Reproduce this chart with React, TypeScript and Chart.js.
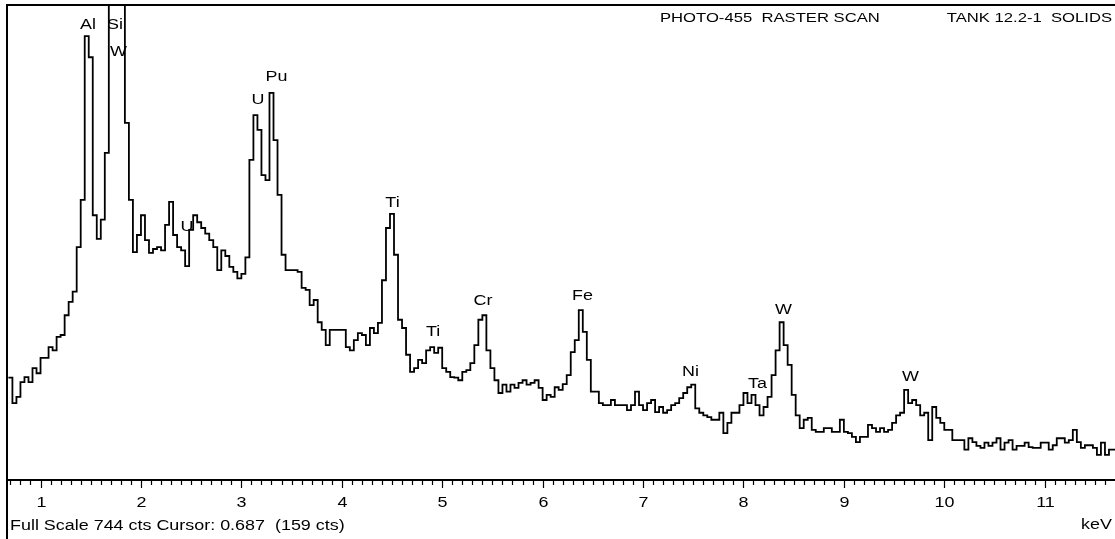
import React, { useEffect, useRef } from "react";
import { Chart, registerables } from "chart.js";

Chart.register(...registerables);

// ---- data ----
const energyStartKeV = 0.68;
const channelWidthKeV = 0.04;
const counts = [
  159, 119, 129, 152, 160, 152, 174, 166, 190, 190,
  207, 202, 223, 226, 257, 278, 294, 364, 438, 695,
  662, 414, 377, 407, 512, 790, 820, 815, 785, 559,
  438, 356, 383, 414, 375, 355, 361, 364, 359, 399,
  435, 383, 364, 359, 334, 391, 414, 403, 394, 385,
  375, 364, 328, 359, 350, 333, 325, 315, 322, 348,
  501, 571, 548, 477, 469, 606, 532, 446, 352, 328,
  328, 328, 325, 300, 297, 273, 281, 246, 234, 210,
  234, 234, 234, 234, 207, 202, 218, 229, 226, 210,
  237, 229, 245, 312, 394, 416, 352, 250, 237, 195,
  168, 174, 187, 182, 202, 207, 198, 206, 174, 168,
  160, 159, 155, 168, 171, 182, 210, 250, 257, 202,
  174, 155, 135, 148, 137, 148, 143, 151, 155, 148,
  151, 155, 143, 124, 132, 129, 144, 140, 149, 163,
  199, 218, 265, 231, 187, 137, 137, 119, 116, 116,
  124, 116, 116, 116, 108, 116, 137, 116, 108, 119,
  124, 105, 113, 104, 108, 116, 119, 127, 135, 144,
  148, 111, 104, 100, 97, 93, 93, 104, 72, 88,
  104, 104, 116, 135, 119, 132, 116, 100, 113, 129,
  163, 202, 246, 210, 179, 132, 100, 80, 93, 96,
  77, 74, 74, 80, 80, 74, 74, 93, 74, 72,
  66, 58, 66, 66, 85, 80, 74, 80, 74, 77,
  88, 100, 104, 140, 119, 124, 116, 100, 104, 61,
  113, 96, 88, 77, 77, 61, 61, 61, 46, 64,
  58, 52, 49, 57, 52, 57, 64, 46, 57, 61,
  46, 52, 52, 57, 50, 49, 49, 57, 57, 46,
  53, 64, 64, 57, 61, 77, 58, 49, 53, 53,
  49, 38, 57, 38, 46, 46, 50,
];

const axisMinKeV = 0.676;
const axisMaxKeV = 11.7;
const fullScaleCounts = 744;
const minorTickStepKeV = 0.1;

const peakNames = ["Al", "Si", "W", "U", "Pu", "U", "Ti", "Ti", "Cr", "Fe", "Ni", "Ta", "W", "W"];
const peakLabelKeV = [1.473, 1.742, 1.777, 3.166, 3.35, 2.459, 4.505, 4.909, 5.406, 6.397, 7.473, 8.14, 8.399, 9.664];
const peakLabelCounts = [714, 714, 672, 596, 633, 397, 435, 232, 281, 289, 170, 150, 267, 162];

const headerLeft = "PHOTO-455  RASTER SCAN";
const headerRight = "TANK 12.2-1  SOLIDS";
const footerText = "Full Scale 744 cts Cursor: 0.687  (159 cts)";
const unitText = "keV";

// ---- styling ----
const W = 1115;
const H = 539;
const FONT = '"Liberation Sans", Arial, Helvetica, sans-serif';
const TEXT_STRETCH = 1.28;

function stretchedText(
  ctx: CanvasRenderingContext2D,
  text: string,
  x: number,
  y: number,
  align: CanvasTextAlign,
  size: number
) {
  ctx.save();
  ctx.translate(x, y);
  ctx.scale(TEXT_STRETCH, 1);
  ctx.font = `${size}px ${FONT}`;
  ctx.textAlign = align;
  ctx.textBaseline = "alphabetic";
  ctx.fillStyle = "#000";
  ctx.fillText(text, 0, 0);
  ctx.restore();
}

const decorPlugin = {
  id: "edsDecor",
  afterDraw(chart: any) {
    const { ctx, chartArea: ca, scales } = chart;
    const xs = scales.x;
    const ys = scales.y;
    ctx.save();
    ctx.strokeStyle = "#000";
    ctx.lineWidth = 2;
    // top frame
    ctx.beginPath();
    ctx.moveTo(ca.left - 2, ca.top);
    ctx.lineTo(chart.width, ca.top);
    ctx.stroke();
    // left frame
    ctx.beginPath();
    ctx.moveTo(ca.left - 1, ca.top - 1);
    ctx.lineTo(ca.left - 1, chart.height);
    ctx.stroke();
    // axis line
    ctx.beginPath();
    ctx.moveTo(ca.left - 2, ca.bottom + 1);
    ctx.lineTo(chart.width, ca.bottom + 1);
    ctx.stroke();

    // tick marks and labels
    ctx.lineWidth = 1.2;
    for (const t of xs.ticks) {
      const px = Math.round(xs.getPixelForValue(t.value)) + 0.5;
      const major = Math.abs(t.value - Math.round(t.value)) < 1e-6;
      ctx.beginPath();
      ctx.moveTo(px, ca.bottom + 2);
      ctx.lineTo(px, ca.bottom + (major ? 9 : 6));
      ctx.stroke();
      if (major) {
        stretchedText(ctx, String(Math.round(t.value)), px, ca.bottom + 28, "center", 14);
      }
    }

    // peak labels
    for (let i = 0; i < peakNames.length; i++) {
      const px = xs.getPixelForValue(peakLabelKeV[i]);
      const py = ys.getPixelForValue(peakLabelCounts[i]);
      stretchedText(ctx, peakNames[i], px, py + 5, "center", 14);
    }

    // header and footer texts
    stretchedText(ctx, headerLeft, 660, ca.top + 17, "left", 13);
    stretchedText(ctx, headerRight, chart.width - 3, ca.top + 17, "right", 13);
    stretchedText(ctx, footerText, ca.left + 2, ca.bottom + 51, "left", 14);
    stretchedText(ctx, unitText, chart.width - 3, ca.bottom + 50, "right", 14);
    ctx.restore();
  },
};

export default function App() {
  const canvasRef = useRef<HTMLCanvasElement | null>(null);

  useEffect(() => {
    document.body.style.margin = "0";
    const canvas = canvasRef.current;
    if (!canvas) return;
    const points = counts.map((c, i) => ({ x: energyStartKeV + i * channelWidthKeV, y: c }));
    const chart = new Chart(canvas, {
      type: "line",
      data: {
        datasets: [
          {
            data: points,
            stepped: "before",
            borderColor: "#000",
            borderWidth: 1.8,
            pointRadius: 0,
            fill: false,
            tension: 0,
          },
        ],
      },
      options: {
        responsive: false,
        maintainAspectRatio: false,
        animation: false,
        devicePixelRatio: 1,
        layout: { padding: { top: 5, left: 8, right: 0, bottom: 0 } },
        plugins: {
          legend: { display: false },
          tooltip: { enabled: false },
        },
        scales: {
          x: {
            type: "linear",
            position: "bottom",
            min: axisMinKeV,
            max: axisMaxKeV,
            ticks: {
              stepSize: minorTickStepKeV,
              display: false,
              autoSkip: false,
              includeBounds: false,
              maxTicksLimit: 1000,
            },
            grid: { display: false, drawTicks: false },
            border: { display: false },
            afterFit: (scale: any) => {
              scale.height = 60;
            },
          },
          y: {
            type: "linear",
            display: false,
            min: 0,
            max: fullScaleCounts,
          },
        },
      },
      plugins: [decorPlugin],
    } as any);
    return () => chart.destroy();
  }, []);

  return (
    <div style={{ position: "fixed", left: 0, top: 0, width: W, height: H, background: "#fff" }}>
      <canvas ref={canvasRef} width={W} height={H} style={{ display: "block", width: W, height: H }} />
    </div>
  );
}
